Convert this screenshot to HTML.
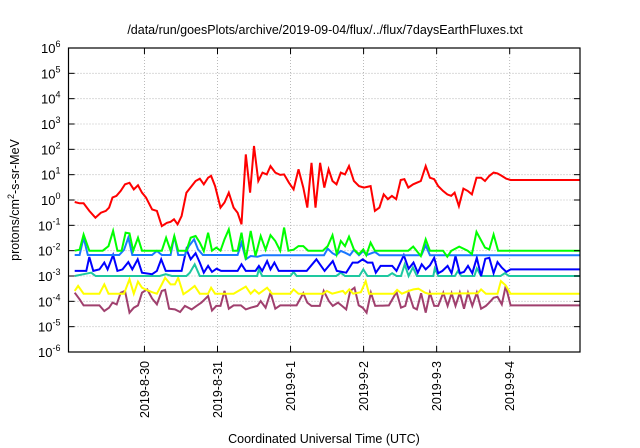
<!DOCTYPE html>
<html><head><meta charset="utf-8"><style>
html,body{margin:0;padding:0;background:#fff;}
svg{display:block;font-family:"Liberation Sans",sans-serif;}
</style></head><body>
<svg id="chart" width="640" height="448" viewBox="0 0 640 448" xmlns="http://www.w3.org/2000/svg">
<rect width="640" height="448" fill="#fff"/>
<text x="325" y="34" font-size="12.5" text-anchor="middle" fill="#000">/data/run/goesPlots/archive/2019-09-04/flux/../flux/7daysEarthFluxes.txt</text>
<text x="324" y="443" font-size="12.5" text-anchor="middle" fill="#000">Coordinated Universal Time (UTC)</text>
<text transform="translate(19,200) rotate(-90)" font-size="12.5" text-anchor="middle" fill="#000">protons/cm<tspan dy="-5" font-size="9">2</tspan><tspan dy="5">-s-sr-MeV</tspan></text>
<g id="grid"></g><g id="series"></g><g id="axes"></g>
</svg>
<script>
// ---- data: hours since 2019-08-29 00:00 UTC, log10 flux ----
const dateTicks=["2019-8-30","2019-8-31","2019-9-1","2019-9-2","2019-9-3","2019-9-4"];
const dateTickHours=[24,48,72,96,120,144];
const yTickExps=[-6,-5,-4,-3,-2,-1,0,1,2,3,4,5,6];
const redHours=[1.1,2.7,4,5.9,7.9,9.7,11.3,12.4,13.5,14.8,16.2,17.6,19.1,20.5,21.9,23.2,24.5,26.5,28.1,29.7,31.4,32.6,33.7,34.9,36.2,37.8,39.5,40.8,42.2,43.5,44.9,45.9,47.2,49,50.3,51.7,53.3,54.6,55.9,57.3,58.7,60,61.4,62.8,64.2,65.4,67,68.6,69.9,71.5,73,74.6,76.2,77.5,78.9,80.2,81.7,83.1,84.5,85.8,87.1,88.5,89.9,91.2,92.8,94.5,96.1,98.3,99.7,101.2,102.6,104,105.3,106.7,108.2,109.4,110.7,112.3,113.4,114.8,116.4,117.8,119.2,120.5,122.1,123.5,124.8,125.9,127.3,128.8,130.2,131.6,133.1,134.6,135.9,137.3,138.7,140,141.4,142.9,144.3,167];
const redLog=[-0.08,-0.13,-0.13,-0.43,-0.7,-0.5,-0.43,-0.3,0.1,0.16,0.36,0.62,0.68,0.42,0.58,0.29,0.1,-0.37,-0.43,-1.03,-0.9,-0.86,-0.76,-0.96,-0.63,0.29,0.55,0.75,0.84,0.62,0.88,0.95,0.55,-0.3,-0.1,0.29,-0.3,-0.5,-0.96,1.8,0.29,2.13,0.75,1.08,1.01,1.34,1.08,0.99,1.01,0.68,0.42,1.21,0.49,-0.3,1.47,-0.3,1.47,0.49,1.21,0.75,0.62,1.08,1.01,1.34,0.75,0.55,0.49,0.55,-0.43,-0.3,0.22,0.03,0.16,0.03,0.79,0.82,0.49,0.62,0.68,0.75,1.34,0.88,0.82,0.55,0.36,0.22,0.16,0.29,-0.24,0.45,0.36,0.22,0.88,0.88,0.75,0.95,1.08,1.05,0.95,0.84,0.79,0.79];
const greenData=[[1.1,-2],[2.7,-1.96],[4,-1.36],[5.9,-2],[10.3,-2],[12.2,-1.82],[13.7,-1.22],[15.1,-2],[16.5,-2],[17.8,-1.29],[19.1,-1.32],[20.3,-2],[21.9,-1.49],[23.2,-2],[29.7,-2],[31.1,-1.49],[32.6,-2],[33.8,-1.42],[35.1,-2],[37.8,-2],[39.2,-1.49],[40.8,-1.42],[42.2,-1.68],[43.5,-2.02],[44.9,-1.29],[46.2,-2],[47.6,-1.88],[49,-2],[50.3,-1.55],[51.7,-1.16],[53.1,-2],[54.6,-2],[55.9,-1.29],[57.3,-2.34],[58.9,-1.22],[60.5,-2.21],[62.2,-1.42],[63.8,-1.96],[65.4,-1.39],[67,-1.62],[68.6,-2],[69.9,-1.09],[71.3,-2],[73,-1.96],[74.6,-1.82],[76.2,-1.82],[77.8,-2],[82.6,-2],[84.2,-1.82],[85.8,-1.39],[87.2,-2.14],[88.5,-1.62],[89.9,-1.82],[91.2,-1.45],[92.8,-1.95],[94.5,-2.14],[95.9,-1.95],[96.9,-2.18],[98.3,-1.68],[99.7,-2],[110.7,-2],[112.3,-1.84],[114.8,-2.21],[116.4,-1.55],[117.8,-2],[122.1,-2],[123.5,-2.24],[124.8,-2.01],[127.4,-1.84],[130.2,-2],[131.6,-2.14],[133.1,-1.26],[135.9,-1.88],[137.3,-1.95],[138.7,-1.36],[140.2,-2],[167,-2]];
const lightBlueData=[[1.1,-2.17],[2.7,-2.17],[4,-1.49],[5.4,-2.17],[15.7,-2.17],[17.3,-1.97],[18.7,-1.49],[20,-2.17],[26.5,-2.17],[28.1,-2.01],[29.7,-2.17],[32.6,-2.17],[33.8,-1.42],[35.1,-2.17],[37.3,-2.17],[38.6,-1.82],[40.3,-1.55],[41.6,-1.95],[43.2,-2.17],[54.6,-2.17],[55.9,-1.68],[57.3,-2.34],[58.9,-2.21],[61.1,-2.24],[63,-2.18],[83,-2.18],[84.2,-1.92],[85.8,-2.1],[87,-2.18],[88.5,-2.01],[89.9,-2.08],[91.5,-2.18],[92.8,-1.97],[94.5,-2.18],[95.9,-2.01],[96.9,-2.18],[99.7,-2.05],[101.2,-2.18],[115,-2.18],[116.4,-1.79],[117.8,-2.18],[167,-2.18]];
const blueData=[[1.1,-2.8],[4.9,-2.8],[5.9,-2.25],[7.2,-2.8],[9.2,-2.74],[10.8,-2.47],[11.9,-2.74],[13.7,-2.17],[15.1,-2.8],[16.8,-2.74],[18.7,-2.45],[20,-2.74],[21.8,-2.34],[23.2,-2.87],[26.5,-2.93],[28.1,-2.8],[29.5,-2.34],[31,-2.8],[36.2,-2.8],[37.8,-1.95],[39.2,-2.34],[40.8,-2.1],[42.2,-2.47],[43.5,-2.87],[44.9,-2.6],[46.2,-2.84],[47.7,-2.71],[49.2,-2.8],[54.6,-2.8],[55.9,-2.54],[57.3,-2.8],[60.5,-2.8],[61.6,-2.6],[62.7,-2.8],[64.3,-2.41],[65.4,-2.74],[66.7,-2.47],[68.1,-2.8],[77.3,-2.8],[80.5,-2.34],[83.2,-2.8],[85.9,-2.41],[87.2,-2.8],[90.3,-2.87],[92.4,-2.47],[94.1,-2.47],[95.7,-2.34],[97.3,-2.47],[98.9,-2.47],[100,-2.87],[101.6,-2.6],[105.4,-2.6],[106.8,-2.8],[109.2,-2.18],[110.8,-2.71],[112.4,-2.47],[113.8,-2.87],[115.1,-2.54],[116.4,-2.74],[117.8,-2.58],[119.2,-2.28],[120.5,-2.89],[121.9,-2.8],[123.6,-2.6],[124.9,-2.89],[126.2,-2.21],[127.6,-2.89],[129,-2.84],[130.3,-2.6],[131.7,-2.89],[133.2,-2.28],[134.6,-3],[136,-2.32],[137.3,-2.28],[138.7,-2.89],[140,-2.45],[141.4,-2.67],[142.9,-2.84],[144.3,-2.74],[167,-2.74]];
const tealData=[[1.1,-3],[4,-2.93],[6.5,-2.87],[8,-3],[29,-3],[31,-2.93],[33,-3],[37.8,-3],[38.9,-2.87],[40.5,-2.54],[42.2,-3],[61,-3],[61.6,-2.74],[62.7,-3],[72,-3],[73,-2.84],[74,-3],[87,-3],[88.5,-2.87],[89.9,-3],[94.6,-3],[95.9,-2.74],[97.3,-3],[104,-3],[105.4,-2.89],[106.8,-3],[108.3,-3],[109.5,-2.54],[110.8,-3],[112.2,-2.66],[113.5,-3],[118.9,-3],[119.4,-2.7],[120.5,-3],[126,-3],[127,-2.8],[128.1,-3],[132.4,-3],[133.2,-2.7],[134.6,-3],[141,-3],[142.4,-2.89],[143.8,-3],[167,-3]];
const yellowData=[[1.1,-3.59],[2.2,-3.39],[4,-3.7],[9.2,-3.7],[10.8,-3.33],[12.2,-3.7],[17.3,-3.7],[19.1,-3.13],[20.5,-3.7],[21.9,-3.22],[23.2,-3.46],[24.3,-3.53],[26.5,-3.64],[28.1,-3.7],[29.7,-3.33],[30.8,-3.07],[32.6,-3.33],[34,-3.33],[35.1,-3.07],[36.8,-3.72],[38.4,-3.59],[40.5,-3.39],[42.2,-3.7],[44.9,-3.7],[45.9,-3.46],[47.2,-3.7],[53.3,-3.7],[57.3,-3.42],[58.9,-3.7],[60.2,-3.55],[61.6,-3.7],[64.3,-3.46],[65.9,-3.7],[71.9,-3.7],[73,-3.53],[74.6,-3.7],[82.7,-3.7],[83.9,-3.59],[85.7,-3.7],[89.2,-3.59],[90,-3.7],[91.3,-3.53],[92.6,-3.7],[95.1,-3.64],[96.7,-3.2],[97.8,-3.7],[105.9,-3.7],[107,-3.55],[108.6,-3.7],[110.8,-3.59],[112.4,-3.53],[114,-3.5],[116.2,-3.66],[117.3,-3.7],[133.5,-3.68],[134.6,-3.53],[136.2,-3.7],[140,-3.7],[141.1,-3.2],[142.7,-3.37],[144.3,-3.7],[167,-3.7]];
const purpleData=[[1.1,-3.66],[2.7,-3.92],[4,-4.16],[9.2,-4.16],[10.8,-4.38],[12.4,-4.25],[13.5,-4.05],[14.9,-4.12],[16.2,-3.66],[17.6,-3.59],[19.1,-4.45],[20.5,-4.25],[21.9,-4.16],[23.2,-3.66],[24.9,-3.53],[26.5,-3.89],[28.1,-4.12],[29.7,-3.59],[30.8,-3.55],[32.1,-4.29],[34,-4.32],[35.7,-4.42],[37.3,-4.18],[39.5,-4.32],[41.1,-4.18],[42.7,-4.05],[44.9,-3.79],[46.2,-4.36],[47.6,-4.18],[49,-4.18],[50.3,-3.59],[51.7,-4.29],[53.3,-4.16],[55.7,-4.16],[57.3,-4.32],[58.9,-4.25],[61.1,-4.18],[62.2,-3.99],[63.8,-4.25],[65.4,-3.66],[67,-4.29],[68.6,-4.16],[74,-4.16],[76.2,-3.68],[77.5,-4.05],[78.9,-4.18],[81.6,-4.18],[82.9,-3.59],[84.6,-3.99],[85.9,-4.18],[87.6,-4.05],[88.9,-4.18],[90.3,-4.32],[91.6,-3.59],[93,-3.46],[94.4,-4.16],[95.7,-4.25],[97,-4.45],[98.4,-3.66],[99.8,-4.18],[104.3,-4.16],[106.8,-3.63],[108.3,-4.25],[109.7,-4.18],[110.8,-3.66],[112.4,-4.25],[113.5,-4.32],[114.9,-3.68],[116.4,-4.45],[117.8,-3.66],[119.2,-4.18],[120.5,-4.18],[122.2,-3.66],[123.6,-4.18],[124.9,-3.68],[126.2,-4.18],[127.6,-3.66],[129,-4.29],[130.3,-3.66],[131.7,-4.18],[133.2,-3.66],[134.6,-4.29],[136.2,-4.18],[137.3,-4.05],[138.7,-3.86],[140,-3.82],[141.4,-4.12],[142.7,-3.39],[144.3,-4.16],[167,-4.16]];

// ---- axes ----
const L=68.5,R=580,T=48,B=352;
const X0=-0.95, X1=167.1;
function xs(h){return L+(h-X0)/(X1-X0)*(R-L);}
function ys(lg){return B-(lg+6)/12*(B-T);}
const NS="http://www.w3.org/2000/svg";
function mk(tag,attrs,parent){const e=document.createElementNS(NS,tag);for(const k in attrs)e.setAttribute(k,attrs[k]);parent.appendChild(e);return e;}
const grid=document.getElementById('grid'),axes=document.getElementById('axes'),ser=document.getElementById('series');
yTickExps.forEach(ex=>{
  const y=ys(ex);
  if(ex>-6&&ex<6){const g=mk('line',{x1:L,x2:R,y1:y,y2:y,stroke:'#aaa','stroke-width':0.8,'stroke-dasharray':'1,2'},grid);
  
  }
  mk('line',{x1:L,x2:L+6,y1:y,y2:y,stroke:'#000','stroke-width':1},axes);
  mk('line',{x1:R-6,x2:R,y1:y,y2:y,stroke:'#000','stroke-width':1},axes);
  const t=mk('text',{x:L-8,y:y+5,'font-size':13,'text-anchor':'end',fill:'#000'},axes);
  
  
  t.appendChild(document.createTextNode('10'));
  const s=document.createElementNS(NS,'tspan');s.setAttribute('dy','-6');s.setAttribute('font-size','9');s.textContent=String(ex);t.appendChild(s);
  t.setAttribute('dx','0');
  // shift so superscript end aligns
  t.setAttribute('x',L-8-(String(ex).length>1?0:0));
});
dateTickHours.forEach((h,i)=>{
  const x=xs(h);
  const g=mk('line',{x1:x,x2:x,y1:T,y2:B,stroke:'#aaa','stroke-width':0.8,'stroke-dasharray':'1,2'},grid);
  
  
  mk('line',{x1:x,x2:x,y1:B,y2:B-6,stroke:'#000'},axes);
  mk('line',{x1:x,x2:x,y1:T,y2:T+6,stroke:'#000'},axes);
  const t=mk('text',{transform:`translate(${x+4.5},361) rotate(-90)`,'font-size':12.5,'text-anchor':'end',fill:'#000'},axes);
  
  
  t.textContent=dateTicks[i];
});
const frame=mk('rect',{x:L,y:T,width:R-L,height:B-T,fill:'none',stroke:'#000','stroke-width':1.2},axes);



function draw(pts,color,name){
  const d=pts.map((p,i)=>(i?'L':'M')+xs(p[0]).toFixed(1)+','+ys(p[1]).toFixed(1)).join('');
  const p=mk('path',{d:d,fill:'none',stroke:color,'stroke-width':2,'stroke-linejoin':'miter'},ser);
  
  
}
const redPts=redHours.slice(0,Math.min(redHours.length,redLog.length)).map((h,i)=>[h,redLog[i]]);
draw(purpleData,'#a0406e','series-purple');
draw(yellowData,'#ffff00','series-yellow');
draw(tealData,'#1ec8a0','series-teal');
draw(blueData,'#0000ff','series-blue');
draw(lightBlueData,'#1a78ff','series-light-blue');
draw(greenData,'#00ff00','series-green');
draw(redPts,'#ff0000','series-red');
</script>
</body></html>
